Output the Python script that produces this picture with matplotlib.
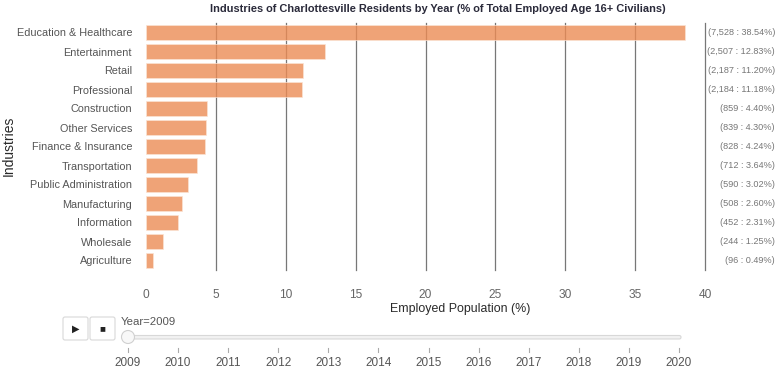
import numpy as np
import matplotlib
matplotlib.use("Agg")
import matplotlib.pyplot as plt
import matplotlib.transforms as mtransforms
from matplotlib.patches import FancyBboxPatch, Circle

plt.rcParams['font.family'] = ['Liberation Sans', 'DejaVu Sans']

industries = ["Education & Healthcare", "Entertainment", "Retail", "Professional",
              "Construction", "Other Services", "Finance & Insurance", "Transportation",
              "Public Administration", "Manufacturing", "Information", "Wholesale",
              "Agriculture"]
counts = [7528, 2507, 2187, 2184, 859, 839, 828, 712, 590, 508, 452, 244, 96]
percents = [38.54, 12.83, 11.20, 11.18, 4.40, 4.30, 4.24, 3.64, 3.02, 2.60, 2.31, 1.25, 0.49]
xticks = [0, 5, 10, 15, 20, 25, 30, 35, 40]
years = list(range(2009, 2021))
current_year = 2009

W, H = 780, 374
fig = plt.figure(figsize=(W / 100, H / 100), dpi=100)

# main bar chart
ax = fig.add_axes([146 / W, 1 - 270 / H, (705 - 146) / W, (270 - 23) / H])
ypos = np.arange(len(industries))
ax.barh(ypos, percents, height=0.84, color='#ec8c55', alpha=0.8, edgecolor='#fbe3d4',
        linewidth=0.6, zorder=3)
ax.set_ylim(len(industries) - 0.5, -0.5)
ax.set_xlim(0, 40)
ax.set_xticks(xticks)
ax.set_xticklabels([str(t) for t in xticks], color='#666666', fontsize=8.6)
ax.set_yticks(ypos)
ax.set_yticklabels(industries, color='#555555', fontsize=7.8)
ax.tick_params(axis='both', length=0)
ax.tick_params(axis='x', pad=14)
ax.tick_params(axis='y', pad=10)
for t in xticks[1:]:
    ax.axvline(t, color='#777777', linewidth=0.9, zorder=2, clip_on=False)
for s in ax.spines.values():
    s.set_visible(False)

trans = mtransforms.blended_transform_factory(fig.transFigure, ax.transData)
for i, (c, p) in enumerate(zip(counts, percents)):
    ax.text(775 / W, i, f"({c:,} : {p:.2f}%)", transform=trans,
            ha='right', va='center', fontsize=6.6, color='#777777')

fig.text(438 / W, 1 - 9 / H,
         "Industries of Charlottesville Residents by Year (% of Total Employed Age 16+ Civilians)",
         ha='center', va='center', fontsize=7.9, fontweight='bold', color='#2a2a3a')
fig.text(460 / W, 1 - 309 / H, "Employed Population (%)", ha='center', va='center',
         fontsize=8.9, color='#2a2a2a')
fig.text(9 / W, 1 - 146 / H, "Industries", ha='center', va='center', rotation=90,
         fontsize=10, color='#2a2a2a')

# slider widget
sax = fig.add_axes([0, 0, 1, 1], facecolor='none')
sax.set_xlim(0, W)
sax.set_ylim(H, 0)
sax.axis('off')
for x0, glyph in [(63, "\u25b6"), (90, "\u25a0")]:
    sax.add_patch(FancyBboxPatch((x0, 317), 25, 23, boxstyle="round,pad=0,rounding_size=2",
                                 facecolor='white', edgecolor='#d8d8d8', linewidth=0.8))
    sax.text(x0 + 12.5, 328.5, glyph, ha='center', va='center', fontsize=7, color='#222222')
sax.text(121, 322, f"Year={current_year}", ha='left', va='center', fontsize=8.2, color='#555555')
sax.add_patch(FancyBboxPatch((127, 335.5), 554, 3.5, boxstyle="round,pad=0,rounding_size=1.7",
                             facecolor='#f2f2f2', edgecolor='#d8d8d8', linewidth=0.8))
x_first, x_last = 128, 679
for k, yr in enumerate(years):
    xx = x_first + (x_last - x_first) * k / (len(years) - 1)
    sax.plot([xx, xx], [348, 352], color='#aaaaaa', linewidth=0.8)
    sax.text(xx, 363, str(yr), ha='center', va='center', fontsize=8.5, color='#555555')
hx = x_first + (x_last - x_first) * years.index(current_year) / (len(years) - 1)
sax.add_patch(Circle((hx, 337), 6.5, facecolor='#f8f8f8', edgecolor='#d0d0d0', linewidth=0.8, zorder=5))

fig.savefig("out.png", dpi=100)
